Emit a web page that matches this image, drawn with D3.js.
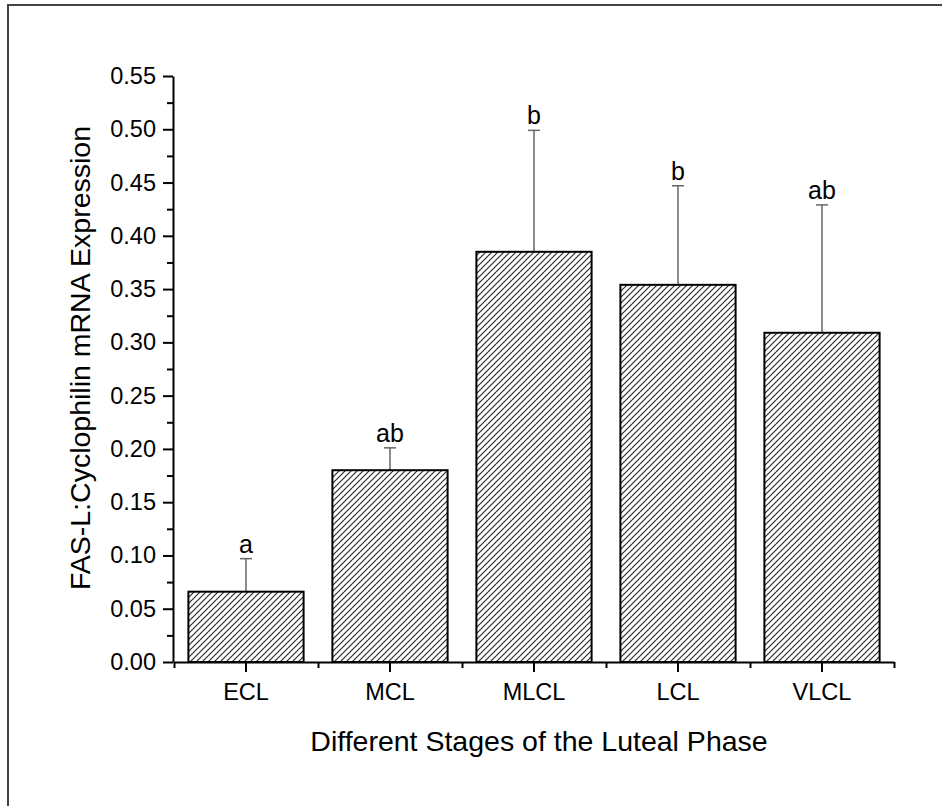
<!DOCTYPE html>
<html lang="en">
<head>
<meta charset="UTF-8">
<script src="https://d3js.org/d3.v7.min.js"></script>
<style>
    body { margin: 0; background: #fff; }
    svg { display: block; font-family: "Liberation Sans", Arial, sans-serif; }
    .axis path, .axis line { stroke: #000; stroke-width: 2px; }
    .axis text { font-size: 23.5px; fill: #000; font-family: "Liberation Sans", Arial, sans-serif; }
    .bar { stroke: #000; stroke-width: 2px; }
    .err { stroke: #666; stroke-width: 1.5px; }
    .sig { font-size: 25px; fill: #000; }
    .axis-label { font-size: 28.5px; fill: #000; }
</style>
</head>
<body>
<div id="chart"></div>
<script>
// data
const stages = ["ECL", "MCL", "MLCL", "LCL", "VLCL"];
const means = [0.066, 0.180, 0.385, 0.354, 0.309];
const errUp = [0.031, 0.021, 0.114, 0.093, 0.120];
const letters = ["a", "ab", "b", "b", "ab"];
const yTicks = [0, 0.05, 0.10, 0.15, 0.20, 0.25, 0.30, 0.35, 0.40, 0.45, 0.50, 0.55];
const yMinor = [0.025, 0.075, 0.125, 0.175, 0.225, 0.275, 0.325, 0.375, 0.425, 0.475, 0.525];

const W = 942, H = 806;
const plot = {left: 174, right: 894, top: 76, bottom: 662};

const svg = d3.select("#chart").append("svg")
    .attr("width", W)
    .attr("height", H);

// outer frame (runs off the right/bottom edge in the original)
svg.append("rect")
    .attr("x", 8).attr("y", 5)
    .attr("width", W + 20).attr("height", H + 20)
    .attr("fill", "none")
    .attr("stroke", "#444")
    .attr("stroke-width", 2);

// hatch pattern
const pat = svg.append("defs").append("pattern")
    .attr("id", "hatch")
    .attr("patternUnits", "userSpaceOnUse")
    .attr("width", 6).attr("height", 6);
pat.append("rect").attr("width", 6).attr("height", 6).attr("fill", "#fff");
pat.append("path")
    .attr("d", "M0,6 L6,0 M-1,1 L1,-1 M5,7 L7,5")
    .attr("stroke", "#2a2a2a")
    .attr("stroke-width", 1.2);

const x = d3.scaleBand()
    .domain(stages)
    .range([plot.left, plot.right])
    .paddingInner(0.2)
    .paddingOuter(0.1);

const y = d3.scaleLinear()
    .domain([0, 0.55])
    .range([plot.bottom, plot.top]);

// boundary ticks between categories
const xb = d3.scaleLinear().domain([0, stages.length]).range([plot.left, plot.right]);

const rows = stages.map((s, i) => ({stage: s, mean: means[i], err: errUp[i], letter: letters[i]}));

const cx = d => x(d.stage) + x.bandwidth() / 2;

// error bars (drawn first so bar outline sits on top)
svg.selectAll(".err-v")
    .data(rows)
    .enter().append("line")
    .attr("class", "err")
    .attr("x1", cx).attr("x2", cx)
    .attr("y1", d => y(d.mean))
    .attr("y2", d => y(d.mean + d.err));

svg.selectAll(".err-cap")
    .data(rows)
    .enter().append("line")
    .attr("class", "err")
    .attr("x1", d => cx(d) - 6).attr("x2", d => cx(d) + 6)
    .attr("y1", d => y(d.mean + d.err))
    .attr("y2", d => y(d.mean + d.err));

svg.selectAll(".bar")
    .data(rows)
    .enter().append("rect")
    .attr("class", "bar")
    .attr("x", d => x(d.stage))
    .attr("y", d => y(d.mean))
    .attr("width", x.bandwidth())
    .attr("height", d => y(0) - y(d.mean))
    .attr("fill", "url(#hatch)");

svg.selectAll(".sig")
    .data(rows)
    .enter().append("text")
    .attr("class", "sig")
    .attr("x", cx)
    .attr("y", d => y(d.mean + d.err) - 6)
    .attr("text-anchor", "middle")
    .text(d => d.letter);

// y axis
svg.append("g")
    .attr("class", "axis")
    .attr("transform", `translate(${plot.left - 1},0)`)
    .call(d3.axisLeft(y).tickValues(yTicks).tickFormat(d3.format(".2f")).tickSize(10).tickSizeOuter(0).tickPadding(7));

svg.append("g")
    .attr("class", "axis")
    .attr("transform", `translate(${plot.left - 1},0)`)
    .call(d3.axisLeft(y).tickValues(yMinor).tickFormat("").tickSize(6).tickSizeOuter(0))
    .select(".domain").remove();

// x axis
svg.append("g")
    .attr("class", "axis")
    .attr("transform", `translate(0,${plot.bottom})`)
    .call(d3.axisBottom(x).tickSize(10).tickSizeOuter(0).tickPadding(11));

svg.append("g")
    .attr("class", "axis")
    .attr("transform", `translate(0,${plot.bottom})`)
    .call(d3.axisBottom(xb).tickValues(d3.range(stages.length + 1)).tickFormat("").tickSize(6).tickSizeOuter(0))
    .select(".domain").remove();

// axis titles
svg.append("text")
    .attr("class", "axis-label")
    .attr("text-anchor", "middle")
    .attr("x", (plot.left + plot.right) / 2 + 5)
    .attr("y", 751)
    .text("Different Stages of the Luteal Phase");

svg.append("text")
    .attr("class", "axis-label")
    .attr("text-anchor", "middle")
    .attr("transform", `translate(90,${(plot.top + plot.bottom) / 2 - 11}) rotate(-90)`)
    .text("FAS-L:Cyclophilin mRNA Expression");
</script>
</body>
</html>
